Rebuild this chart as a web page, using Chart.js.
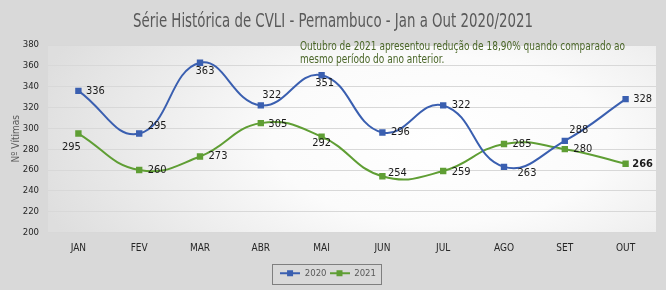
<!DOCTYPE html>
<html>
<head>
<meta charset="utf-8">
<script src="https://cdn.jsdelivr.net/npm/chart.js@4"></script>
<style>
  html, body { margin: 0; padding: 0; background: #d9d9d9; }
  #wrap { width: 666px; height: 290px; position: relative; }
</style>
</head>
<body>
<div id="wrap"><canvas id="cvliChart"></canvas></div>
<script>
const months = ['JAN', 'FEV', 'MAR', 'ABR', 'MAI', 'JUN', 'JUL', 'AGO', 'SET', 'OUT'];
const cvli2020 = [336, 295, 363, 322, 351, 296, 322, 263, 288, 328];
const cvli2021 = [295, 260, 273, 305, 292, 254, 259, 285, 280, 266];
const yTicks = [200, 220, 240, 260, 280, 300, 320, 340, 360, 380];

// where each value label sits, relative to its point (center of text)
const labelOffsets2020 = [[17, 0], [18, -7], [5, 8], [11, -10], [3, 8], [18, 0], [18, 0], [23, 6], [14, -11], [17, 0]];
const labelOffsets2021 = [[-7, 14], [18, 0], [18, 0], [17, 1], [0, 6], [15, -3], [18, 1], [18, 0], [18, 0], [17, 0]];

const chartTitle = 'Série Histórica de CVLI - Pernambuco - Jan a Out 2020/2021';
const note = [
  'Outubro de 2021 apresentou redução de 18,90% quando comparado ao',
  'mesmo período do ano anterior.'
];

const blue = '#3a5fb0';
const green = '#5f9e34';
const narrow = '"Liberation Sans Narrow", "DejaVu Sans Condensed", sans-serif';

function legendMarker(color) {
  const c = document.createElement('canvas');
  c.width = 20; c.height = 8;
  const g = c.getContext('2d');
  g.strokeStyle = color;
  g.lineWidth = 2;
  g.beginPath(); g.moveTo(0, 4); g.lineTo(20, 4); g.stroke();
  g.fillStyle = color;
  g.fillRect(7, 1, 6, 6);
  return c;
}

// the source picture is horizontally condensed, so text is squeezed by sx
function squeezedText(ctx, text, x, y, sx) {
  ctx.save();
  ctx.translate(x, y);
  ctx.scale(sx, 1);
  ctx.fillText(text, 0, 0);
  ctx.restore();
}

const backgroundPlugin = {
  id: 'bg',
  beforeDraw(chart) {
    const ctx = chart.ctx;
    const a = chart.chartArea;
    ctx.save();
    ctx.fillStyle = '#d9d9d9';
    ctx.fillRect(0, 0, chart.width, chart.height);
    ctx.beginPath();
    ctx.rect(a.left, a.top, a.right - a.left, a.bottom - a.top);
    ctx.clip();
    ctx.translate(440, 140);
    ctx.scale(1, 0.5);
    const grad = ctx.createRadialGradient(0, 0, 0, 0, 0, 420);
    grad.addColorStop(0, '#ffffff');
    grad.addColorStop(0.4, '#fbfbfb');
    grad.addColorStop(1, '#dedede');
    ctx.fillStyle = grad;
    ctx.fillRect(-500, -500, 1000, 1000);
    ctx.restore();

    ctx.save();
    ctx.fillStyle = '#595959';
    ctx.textAlign = 'left';
    ctx.textBaseline = 'alphabetic';
    ctx.font = '20px ' + narrow;
    squeezedText(ctx, chartTitle, 133, 27, 400 / ctx.measureText(chartTitle).width);
    ctx.restore();
  }
};

const labelsPlugin = {
  id: 'valueLabels',
  afterDatasetsDraw(chart) {
    const ctx = chart.ctx;
    const offsets = [labelOffsets2020, labelOffsets2021];
    ctx.save();
    ctx.textAlign = 'center';
    ctx.textBaseline = 'middle';
    ctx.fillStyle = '#1a1a1a';
    chart.data.datasets.forEach((ds, di) => {
      const meta = chart.getDatasetMeta(di);
      meta.data.forEach((pt, i) => {
        const last = di === 1 && i === ds.data.length - 1;
        ctx.font = (last ? 'bold ' : '') + '11px ' + narrow;
        const [dx, dy] = offsets[di][i];
        ctx.fillText(String(ds.data[i]), pt.x + dx, pt.y + dy);
      });
    });
    // note text
    ctx.textAlign = 'left';
    ctx.textBaseline = 'alphabetic';
    ctx.fillStyle = '#4a6628';
    ctx.font = '12px ' + narrow;
    const sx = 325 / ctx.measureText(note[0]).width;
    squeezedText(ctx, note[0], 300, 50, sx);
    squeezedText(ctx, note[1], 300, 63, sx);
    // legend frame
    const lg = chart.legend;
    if (lg && lg.legendHitBoxes && lg.legendHitBoxes.length) {
      const boxes = lg.legendHitBoxes;
      const x0 = boxes[0].left - 8;
      const x1 = boxes[boxes.length - 1].left + boxes[boxes.length - 1].width + 5;
      const y0 = boxes[0].top - 5;
      ctx.strokeStyle = '#7f7f7f';
      ctx.lineWidth = 1;
      ctx.strokeRect(Math.round(x0) + 0.5, Math.round(y0) + 0.5, Math.round(x1 - x0), 20);
    }
    ctx.restore();
  }
};

const chart = new Chart(document.getElementById('cvliChart'), {
  type: 'line',
  data: {
    labels: months,
    datasets: [{
      label: '2020',
      data: cvli2020,
      borderColor: blue,
      backgroundColor: blue,
      borderWidth: 2,
      tension: 0.45,
      pointStyle: 'rect',
      pointRadius: 4.5,
      pointBorderWidth: 0
    }, {
      label: '2021',
      data: cvli2021,
      borderColor: green,
      backgroundColor: green,
      borderWidth: 2,
      tension: 0.45,
      pointStyle: 'rect',
      pointRadius: 4.5,
      pointBorderWidth: 0
    }]
  },
  options: {
    responsive: true,
    maintainAspectRatio: false,
    animation: false,
    layout: {
      padding: { top: 45, left: 0, right: 10, bottom: 2 }
    },
    scales: {
      x: {
        offset: true,
        grid: { display: false, drawTicks: false },
        border: { display: false },
        afterFit(scale) { scale.height = 33; },
        ticks: {
          color: '#262626',
          padding: 10,
          maxRotation: 0,
          font: { family: narrow, size: 10 }
        }
      },
      y: {
        min: 200,
        max: 380,
        afterBuildTicks(scale) {
          scale.ticks = yTicks.map(v => ({ value: v }));
        },
        afterFit(scale) { scale.width = 48; },
        grid: { color: '#d8d8d8', drawTicks: false },
        border: { display: false },
        title: {
          display: true,
          text: 'Nº Vítimas',
          color: '#595959',
          padding: { top: 10, bottom: 0 },
          font: { family: narrow, size: 10 }
        },
        ticks: {
          color: '#262626',
          padding: 9,
          font: { family: narrow, size: 9.5 }
        }
      }
    },
    plugins: {
      title: { display: false },
      legend: {
        position: 'bottom',
        labels: {
          usePointStyle: true,
          pointStyleWidth: 20,
          color: '#595959',
          padding: 3,
          font: { family: narrow, size: 9.5 },
          generateLabels(ch) {
            return ch.data.datasets.map((ds, i) => ({
              text: ds.label,
              pointStyle: legendMarker(ds.borderColor),
              fillStyle: ds.borderColor,
              strokeStyle: ds.borderColor,
              fontColor: '#595959',
              lineWidth: 0,
              hidden: false,
              datasetIndex: i
            }));
          }
        }
      },
      tooltip: { enabled: false }
    }
  },
  plugins: [backgroundPlugin, labelsPlugin]
});
</script>
</body>
</html>
